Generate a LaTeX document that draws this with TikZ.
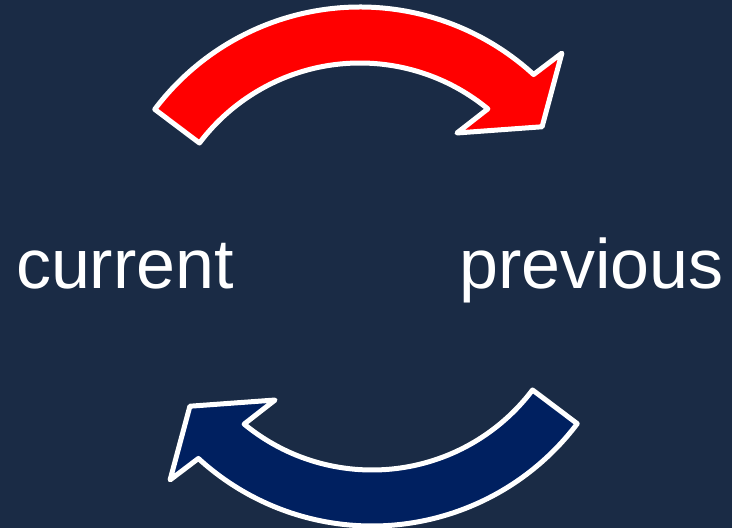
\documentclass[tikz,border=0pt]{standalone}
\usepackage{fontspec}
\setmainfont{Liberation Sans}
\usetikzlibrary{positioning}

\definecolor{bgnavy}{HTML}{1A2B45}
\definecolor{arrowred}{HTML}{FF0000}
\definecolor{arrowblue}{HTML}{002060}

\begin{document}
\begin{tikzpicture}[x=1pt, y=1pt,
            word/.style={text=white, font=\fontsize{70}{84}\selectfont, anchor=base, inner sep=0pt},
            bent arrow/.style={draw=white, line width=5pt, line join=round},
            bendarrow/.pic={
                \path[pic actions] (143:257) arc[start angle=143, end angle=47.5, radius=257]
                    -- (46.25:292) -- (37:228) -- (53.5:163) -- (50.5:201)
                    arc[start angle=50.5, end angle=143, radius=201] -- cycle;
            }]

            % Background
            \fill[bgnavy] (0,0) rectangle (732,528);
            \useasboundingbox (0,0) rectangle (732,528);

            % Labels
            \node[word] (cur) at (125,239) {current};
            \node[word] (prev) at (591.5,239) {previous};

            % Curved arrows
            \pic[bent arrow, fill=arrowred] (fwd) at (360,264) {bendarrow};
            \pic[bent arrow, fill=arrowblue, rotate=180] (back) at (372,259) {bendarrow};
        \end{tikzpicture}
\end{document}
